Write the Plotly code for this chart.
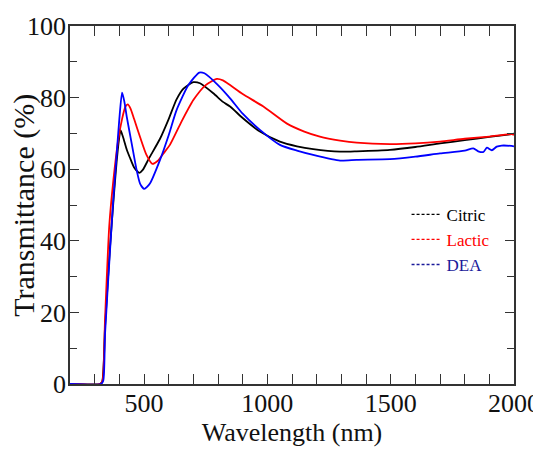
import plotly.graph_objects as go

# Citric
citric_wl = [200, 320, 330, 342, 362, 376, 389, 398, 405, 415, 430, 443, 460, 481, 495, 520, 565, 600,
             632, 660, 700, 727, 781, 820, 849, 900, 970, 1051, 1120, 1186, 1295, 1362, 1497, 1600,
             1700, 1800, 1900, 1990, 2000]
citric_t = [0, 0, 0.5, 16, 38, 51, 62, 68, 70.9, 69, 65.5, 63.2, 60.5, 59, 59.8, 63, 68.5, 74,
            79.5, 82.5, 84.3, 84.0, 81.2, 78.8, 77.5, 74.3, 70.5, 67.7, 66.4, 65.6, 64.9, 65.0, 65.4, 66.2,
            67.2, 68.1, 69.0, 69.8, 69.9]

# Lactic
lactic_wl = [200, 322, 332, 342, 359, 376, 395, 411, 425, 434, 445, 460, 484, 510, 534, 555, 580, 605,
             650, 700, 750, 795, 820, 849, 900, 984, 1078, 1150, 1213, 1295, 1362, 1497, 1600, 1700,
             1800, 1900, 1990, 2000]
lactic_t = [0, 0, 1, 18, 44, 57, 68, 74, 77.5, 78.1, 77, 74, 69, 64, 61.5, 62.3, 64.5, 66.8,
            73, 79.3, 83.5, 85.2, 84.8, 83.5, 81, 77.5, 72.8, 70.5, 69.1, 68, 67.4, 67.0, 67.2, 67.7,
            68.5, 69.1, 69.8, 69.6]

# DEA
dea_wl = [200, 325, 335, 342, 362, 376, 389, 400, 411, 420, 430, 450, 470, 484, 501, 524, 565, 600,
          632, 680, 724, 745, 800, 849, 900, 970, 1051, 1120, 1186, 1295, 1362, 1497, 1600, 1700,
          1800, 1835, 1855, 1876, 1890, 1910, 1930, 1950, 1990, 2000]
dea_t = [0, 0, 1, 14, 37, 52, 64, 74, 81.4, 79, 74.7, 67.2, 59.8, 56, 54.5, 56, 62.6, 69.5,
         76.5, 83.5, 87, 86.8, 83.5, 79.8, 75.5, 71, 66.8, 65.2, 64, 62.4, 62.6, 62.8, 63.5, 64.4,
         65.2, 65.8, 65.0, 64.8, 66.0, 65.3, 66.3, 66.6, 66.5, 66.4]

series = [
    ("Citric", citric_wl, citric_t, "#000000", "#000000", "#000000"),
    ("Lactic", lactic_wl, lactic_t, "#ff0000", "#ff0000", "#ff0000"),
    ("DEA", dea_wl, dea_t, "#0000ff", "#1a1a9a", "#1a1a9a"),
]

FONT = "Liberation Serif, Times New Roman, serif"

fig = go.Figure()

# кривые
for name, wl, t, color, _, _ in series:
    fig.add_trace(go.Scatter(
        x=wl, y=t, mode="lines", name=name, showlegend=False,
        line=dict(color=color, width=1.8, shape="spline", smoothing=0.6),
    ))

# легенда с пунктиром
for name, wl, t, color, leg_line, leg_text in series:
    fig.add_trace(go.Scatter(
        x=[None], y=[None], mode="lines",
        name=f"<span style='color:{leg_text}'>{name}</span>",
        line=dict(color=leg_line, width=1.3, dash="3px,2px"),
    ))

axis_common = dict(
    showline=True, linecolor="#333333", linewidth=1.5, mirror="ticks",
    ticks="inside", tickwidth=1.2, tickcolor="#333333",
    showgrid=False, zeroline=False, automargin=False,
    tickfont=dict(family=FONT, size=26, color="#111111"),
)

fig.update_xaxes(
    range=[200, 2000], tickvals=[500, 1000, 1500, 2000], ticklen=10, ticklabelstandoff=-5,
    minor=dict(dtick=100, tick0=0, ticks="inside", ticklen=10, tickwidth=1.2, tickcolor="#333333"),
    title=dict(text="Wavelength (nm)", font=dict(family=FONT, size=26, color="#111111"), standoff=6),
    **axis_common,
)
fig.update_yaxes(
    range=[0, 100], tickvals=[0, 20, 40, 60, 80, 100], ticklen=9, ticklabelstandoff=-3,
    minor=dict(dtick=10, tick0=0, ticks="inside", ticklen=7, tickwidth=1.2, tickcolor="#333333"),
    **axis_common,
)

fig.add_annotation(
    text="Transmittance (%)", textangle=-90,
    xref="paper", yref="paper", x=-0.104, y=0.5, xanchor="center", yanchor="middle",
    showarrow=False, font=dict(family=FONT, size=30, color="#111111"),
)

# страница сдвинута на 8px (отступ body), поэтому размер 533x444
fig.update_layout(
    width=533, height=444,
    margin=dict(l=62, r=27, t=18, b=68),
    plot_bgcolor="white", paper_bgcolor="white",
    font=dict(family=FONT),
    legend=dict(
        x=0.758, y=0.523, xanchor="left", yanchor="top",
        bgcolor="rgba(0,0,0,0)",
        font=dict(family=FONT, size=17),
    ),
)

fig.write_html("out.html")
